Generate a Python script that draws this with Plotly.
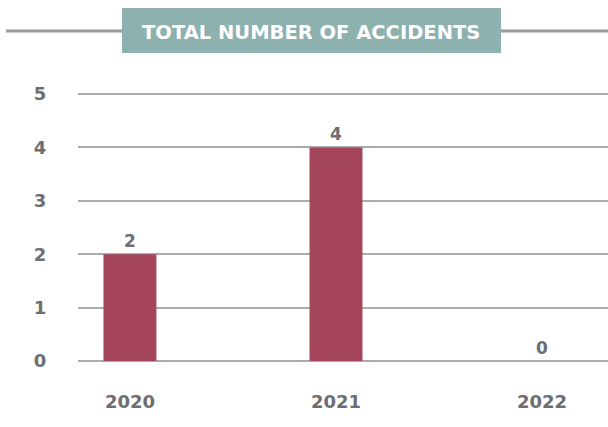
import plotly.graph_objects as go

years = ["2020", "2021", "2022"]
accidents = [2, 4, 0]
y_ticks = [0, 1, 2, 3, 4, 5]
title_text = "TOTAL NUMBER OF ACCIDENTS"

W, H = 608, 427
L, R, T, B = 78, 0, 92, 66
pw, ph = W - L - R, H - T - B
y_top = 5 + 2 / 53.4

def px_x(px):
    return (px - L) / pw

def px_y(py):
    return (H - B - py) / ph

grey = "#6d6e71"
font_fam = "'DejaVu Sans', sans-serif"

fig = go.Figure(go.Bar(
    x=years, y=accidents,
    marker=dict(color="#a4455b", line=dict(width=0)),
    width=0.257,
    text=[str(v) for v in accidents],
    textposition="outside",
    textfont=dict(family=font_fam, size=17, color=grey, weight="bold"),
    cliponaxis=False,
))

fig.update_layout(
    width=W, height=H,
    margin=dict(l=L, r=R, t=T, b=B, pad=0),
    paper_bgcolor="white", plot_bgcolor="white",
    showlegend=False,
    font=dict(family=font_fam, color=grey),
    xaxis=dict(type="category", range=[-0.252, 2.32], showgrid=False, zeroline=False,
               showline=False, ticks="outside", ticklen=24, tickcolor="rgba(0,0,0,0)",
               tickfont=dict(family=font_fam, size=18, color=grey, weight="bold")),
    yaxis=dict(range=[0, y_top], tickvals=y_ticks, showgrid=True, gridcolor="#ababab",
               gridwidth=1.5, zeroline=True, zerolinecolor="#ababab", zerolinewidth=1.5,
               showline=False, ticks="outside", ticklen=27, tickcolor="rgba(0,0,0,0)",
               tickfont=dict(family=font_fam, size=18, color=grey, weight="bold")),
    shapes=[
        dict(type="line", xref="paper", yref="paper", x0=px_x(6), x1=px_x(124),
             y0=px_y(31), y1=px_y(31), line=dict(color="#9a9a9a", width=3)),
        dict(type="line", xref="paper", yref="paper", x0=px_x(498), x1=px_x(608),
             y0=px_y(31), y1=px_y(31), line=dict(color="#9a9a9a", width=3)),
        dict(type="rect", xref="paper", yref="paper", x0=px_x(122), x1=px_x(501),
             y0=px_y(53), y1=px_y(8), fillcolor="#8cb1ae", line=dict(width=0)),
    ],
    annotations=[
        dict(text=title_text, xref="paper", yref="paper", x=px_x(311), y=px_y(32.5),
             xanchor="center", yanchor="middle", showarrow=False,
             font=dict(family=font_fam, size=19.5, color="white", weight="bold")),
    ],
)

fig.write_html("out.html", config={"displayModeBar": False},
               post_script="document.body.style.margin='0';")
